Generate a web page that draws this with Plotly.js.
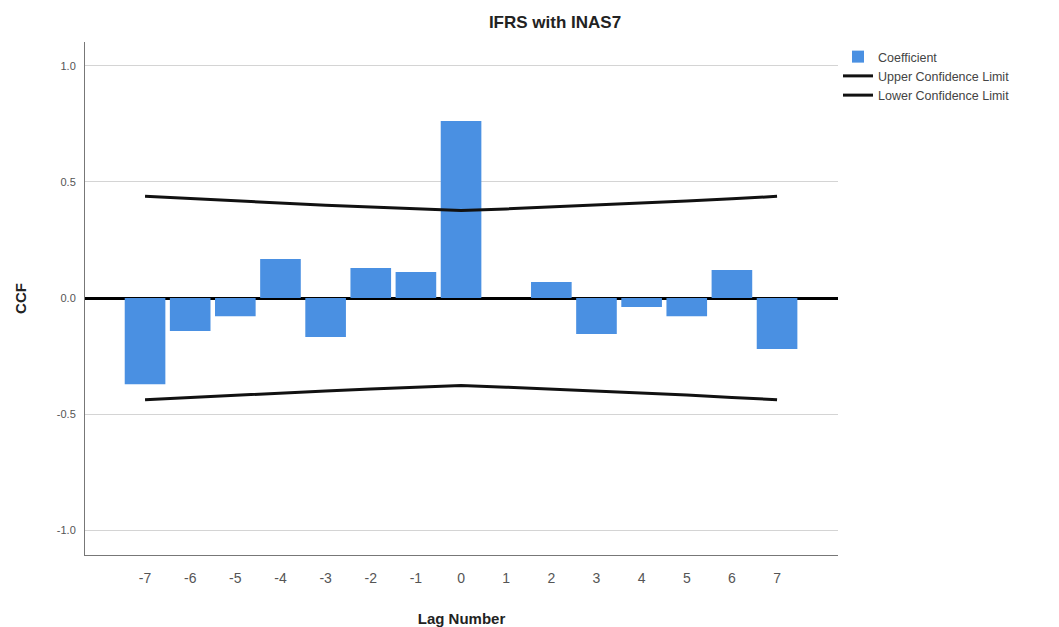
<!DOCTYPE html>
<html>
<head>
<meta charset="utf-8">
<script src="https://cdn.plot.ly/plotly-3.0.1.min.js"></script>
<style>html,body{margin:0;padding:0;background:#fff;}#chart{width:1059px;height:627px;}</style>
</head>
<body>
<div id="chart"></div>
<script>
const lags = [-7,-6,-5,-4,-3,-2,-1,0,1,2,3,4,5,6,7];
const coefficient = [-0.371,-0.142,-0.078,0.168,-0.168,0.129,0.112,0.763,0.0,0.069,-0.155,-0.039,-0.078,0.121,-0.220];
const upperLimit = [0.438,0.428,0.418,0.409,0.400,0.392,0.384,0.377,0.384,0.392,0.400,0.409,0.418,0.428,0.438];
const lowerLimit = [-0.438,-0.428,-0.418,-0.409,-0.400,-0.392,-0.384,-0.377,-0.384,-0.392,-0.400,-0.409,-0.418,-0.428,-0.438];
const yTicks = [-1.0,-0.5,0.0,0.5,1.0];
const yTickLabels = ['-1.0','-0.5','0.0','0.5','1.0'];

const font = "Liberation Sans, Arial, sans-serif";
const traces = [
  {type:'bar', x:lags, y:coefficient, name:'Coefficient', width:0.9,
   marker:{color:'#4a90e2', line:{width:0}}},
  {type:'scatter', mode:'lines', x:lags, y:upperLimit, name:'Upper Confidence Limit',
   line:{color:'#111', width:3}},
  {type:'scatter', mode:'lines', x:lags, y:lowerLimit, name:'Lower Confidence Limit',
   line:{color:'#111', width:3}}
];
const layout = {
  width:1059, height:627,
  margin:{l:85, r:221, t:42, b:72},
  paper_bgcolor:'#fff', plot_bgcolor:'#fff',
  font:{family:font, color:'#444'},
  showlegend:true,
  title:{text:'<b>IFRS with INAS7</b>', font:{size:17, color:'#222', family:font},
    x:555/1059, xref:'container', xanchor:'center', y:1-22/627, yref:'container', yanchor:'middle'},
  xaxis:{range:[-8.33,8.35], tickvals:lags, ticktext:lags.map(String), showgrid:false, zeroline:false,
    showline:true, linecolor:'#777', linewidth:1, ticks:'', tickfont:{size:14, color:'#555'}, ticklabelstandoff:10,
    title:{text:'<b>Lag Number</b>', font:{size:15, color:'#222'}, standoff:28}},
  yaxis:{range:[-1.107,1.103], tickvals:yTicks, ticktext:yTickLabels, showgrid:true, gridcolor:'#d4d4d4', gridwidth:1,
    zeroline:true, zerolinecolor:'#000', zerolinewidth:3,
    showline:true, linecolor:'#777', linewidth:1, ticks:'', tickfont:{size:11, color:'#555'}, ticklabelstandoff:6,
    title:{text:'<b>CCF</b>', font:{size:15, color:'#222'}, standoff:26}},
  legend:{x:1.0, xanchor:'left', y:1.0, yanchor:'top', bgcolor:'rgba(0,0,0,0)', font:{size:12.5, color:'#444'},
    tracegroupgap:0, itemwidth:30},
  bargap:0.1
};
Plotly.newPlot('chart', traces, layout, {displayModeBar:false, staticPlot:true});
</script>
</body>
</html>
